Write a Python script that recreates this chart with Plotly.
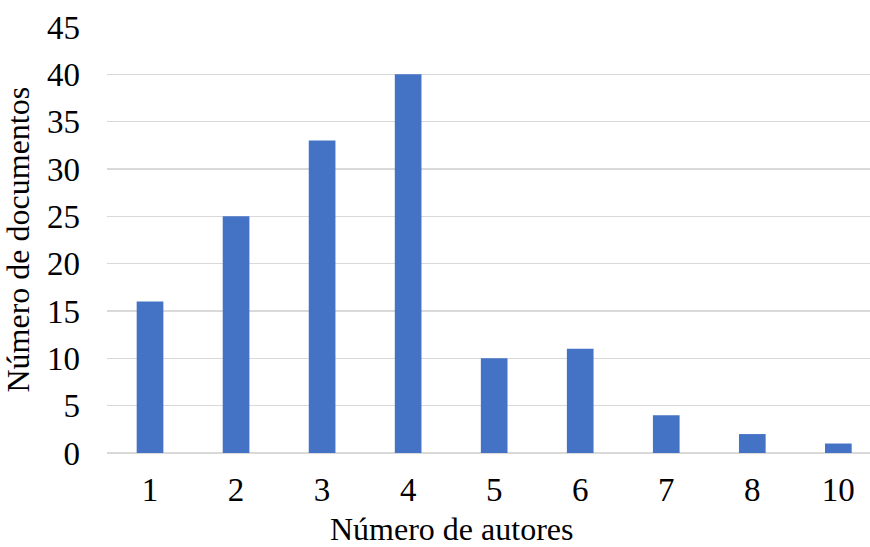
import plotly.graph_objects as go

categorias = ["1", "2", "3", "4", "5", "6", "7", "8", "10"]
documentos = [16, 25, 33, 40, 10, 11, 4, 2, 1]
y_ticks = [0, 5, 10, 15, 20, 25, 30, 35, 40, 45]

FONT = "Liberation Serif, Times New Roman, serif"
FS_TICK = 33
FS_TITLE = 32

fig = go.Figure(
    go.Bar(
        x=categorias,
        y=documentos,
        marker=dict(color="#4472C4", line=dict(width=0)),
    )
)

fig.update_layout(
    width=870,
    height=547,
    margin=dict(l=107, r=0, t=27, b=94),
    paper_bgcolor="white",
    plot_bgcolor="white",
    bargap=0.69,
    showlegend=False,
    font=dict(family=FONT, size=FS_TICK, color="black"),
    xaxis=dict(
        type="category",
        range=[-0.5, 8.368],
        showgrid=False,
        showline=False,
        zeroline=False,
        ticks="",
        ticklabelstandoff=14,
        tickfont=dict(family=FONT, size=FS_TICK, color="black"),
    ),
    yaxis=dict(
        range=[0, 45],
        tickvals=y_ticks,
        showgrid=True,
        gridcolor="#D9D9D9",
        gridwidth=1.3,
        zeroline=True,
        zerolinecolor="#D9D9D9",
        zerolinewidth=1.3,
        showline=False,
        ticks="",
        ticklabelstandoff=26,
        tickfont=dict(family=FONT, size=FS_TICK, color="black"),
    ),
    annotations=[
        dict(
            text="Número de autores",
            xref="paper", yref="paper",
            x=0.4515, y=-0.179,
            xanchor="center", yanchor="middle",
            showarrow=False,
            font=dict(family=FONT, size=FS_TITLE, color="black"),
        ),
        dict(
            text="Número de documentos",
            xref="paper", yref="paper",
            x=-0.1173, y=0.5,
            xanchor="center", yanchor="middle",
            textangle=-90,
            showarrow=False,
            font=dict(family=FONT, size=FS_TITLE, color="black"),
        ),
    ],
)

fig.write_html(
    "out.html",
    config={"displayModeBar": False, "staticPlot": True},
    post_script="document.body.style.margin='0';document.body.style.padding='0';",
)
